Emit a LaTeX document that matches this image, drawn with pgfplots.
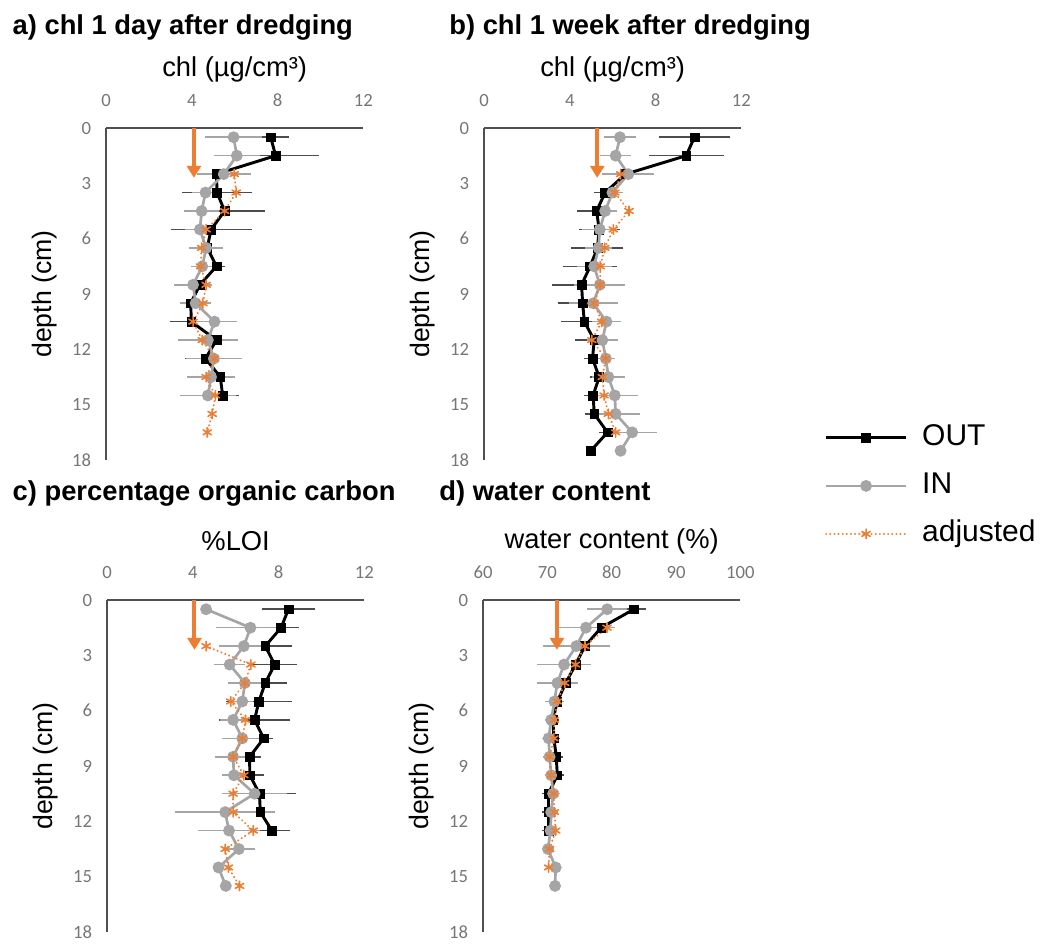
\documentclass[border=0pt]{standalone}
\usepackage{fontspec}
\setmainfont{Liberation Sans}
\newfontfamily\tickfont{Carlito}
\usepackage{pgfplots}
\pgfplotsset{compat=1.18}
\usetikzlibrary{arrows.meta}

\definecolor{orgc}{RGB}{237,125,49}
\definecolor{ingray}{RGB}{165,165,165}
\definecolor{axgray}{RGB}{80,80,80}
\definecolor{tickgray}{RGB}{118,118,118}

\pgfplotsset{
  profile/.style={
    scale only axis, width=193pt, height=249pt,
    ymin=0, ymax=18, y dir=reverse, ytick={0,3,...,18},
    axis x line*=top, axis y line*=left,
    axis line style={draw=axgray, line width=1.2pt, -},
    major tick length=0pt, clip=false,
    tick label style={font=\tickfont\fontsize{14}{16}\selectfont, text=tickgray},
    /pgf/number format/assume math mode=true,
    xticklabel style={anchor=center, yshift=21pt},
    yticklabel style={anchor=east, inner sep=0pt, xshift=-11pt},
    xlabel style={at={(axis description cs:0.5,1)}, anchor=center, yshift=44pt, font=\fontsize{20.5}{24}\selectfont},
    ylabel style={at={(axis description cs:0,0.5)}, anchor=center, yshift=46pt, font=\fontsize{20}{24}\selectfont},
    ylabel={depth (cm)},
  },
  outs/.style={draw=black, line width=2.2pt, mark=square*, mark size=3.3pt,
    mark options={fill=black, draw=black, line width=0.4pt, solid},
    /pgfplots/error bars/x dir=both, /pgfplots/error bars/x explicit,
    /pgfplots/error bars/error bar style={line width=1.2pt, draw=black!70},
    /pgfplots/error bars/error mark options={mark size=3.4pt, line width=1.2pt, draw=black!70}},
  ins/.style={draw=ingray, line width=2pt, mark=*, mark size=3.4pt,
    mark options={fill=ingray, draw=ingray, solid},
    /pgfplots/error bars/x dir=both, /pgfplots/error bars/x explicit,
    /pgfplots/error bars/error bar style={line width=1.2pt, draw=ingray},
    /pgfplots/error bars/error mark options={mark size=3.4pt, line width=1.2pt, draw=ingray}},
  adj/.style={draw=orgc, line width=1.6pt, dash pattern=on 0.1pt off 3pt, line cap=round,
    mark=asterisk, mark size=3.6pt, mark options={draw=orgc, line width=1.2pt, solid}},
  arr/.style={draw=orgc, line width=3pt, -{Triangle[width=10.5pt,length=9pt]}, forget plot},
}

\begin{document}
\begin{tikzpicture}
\useasboundingbox (0,0) rectangle (792.75pt,-707.25pt);

% a) chl 1 day
\begin{axis}[profile, at={(79.5pt,-96pt)}, anchor=north west,
  xmin=0, xmax=12, xtick={0,4,8,12}, xlabel={chl (µg/cm³)}]
\addplot[outs] table[x=v, y=d, x error=e] {
d v e
0.5 7.68 0.65
1.5 7.91 1.8
2.5 5.15 0.5
3.5 5.18 1.43
4.5 5.53 1.67
5.5 4.90 1.68
6.5 4.72 0.3
7.5 5.15 0.2
8.5 4.38 0.35
9.5 3.95 0.3
10.5 3.98 0.8
11.5 5.15 0.7
12.5 4.64 0.74
13.5 5.33 0.4
14.5 5.44 0.55
};
\addplot[ins] table[x=v, y=d, x error=e] {
d v e
0.5 5.95 1.1
1.5 6.10 0.87
2.5 5.49 1.05
3.5 4.64 0.4
4.5 4.46 0.6
5.5 4.38 0.5
6.5 4.67 0.58
7.5 4.49 0.3
8.5 4.06 0.67
9.5 4.18 0.5
10.5 5.06 0.85
11.5 4.75 1.2
12.5 5.03 1.1
13.5 4.90 0.9
14.5 4.75 1.1
};
\addplot[adj] table[x=v, y=d] {
d v
2.5 5.98
3.5 6.07
4.5 5.53
5.5 4.67
6.5 4.46
7.5 4.41
8.5 4.67
9.5 4.52
10.5 4.06
11.5 4.49
12.5 5.06
13.5 4.67
14.5 5.10
15.5 4.95
16.5 4.72
};
\addplot[arr] coordinates {(4.1,0) (4.1,2.7)};
\end{axis}

% b) chl 1 week
\begin{axis}[profile, at={(363pt,-96pt)}, anchor=north west,
  xmin=0, xmax=12, xtick={0,4,8,12}, xlabel={chl (µg/cm³)},
  legend style={at={(axis description cs:1.307,-0.078)}, anchor=west,
    draw=none, fill=none, font=\fontsize{22.5}{26}\selectfont,
    nodes={inner sep=0pt, text height=16pt, text depth=4pt},
    row sep=16pt, /tikz/every odd column/.append style={column sep=11pt}},
  legend cell align=left,
  legend image code/.code={\draw[mark repeat=2,mark phase=2,#1] plot coordinates {(0pt,0pt) (30pt,0pt) (60pt,0pt)};}]
\addplot[outs] table[x=v, y=d, x error=e] {
d v e
0.5 9.81 1.43
1.5 9.43 1.53
2.5 6.60 0.4
3.5 5.65 0.3
4.5 5.25 0.68
5.5 5.37 0.74
6.5 5.29 1.0
7.5 4.95 1.04
8.5 4.55 1.15
9.5 4.60 0.96
10.5 4.68 0.89
11.5 5.14 0.7
12.5 5.06 0.2
13.5 5.37 0.2
14.5 5.09 0.2
15.5 5.14 0.2
16.5 5.76 0.2
17.5 4.98 0
};
\addplot[ins] table[x=v, y=d, x error=e] {
d v e
0.5 6.34 0.52
1.5 6.14 0.5
2.5 6.73 1.0
3.5 5.99 0.3
4.5 5.65 0.35
5.5 5.40 0.6
6.5 5.34 0.4
7.5 5.14 0.6
8.5 5.40 0.97
9.5 5.09 0.93
10.5 5.71 0.46
11.5 5.52 0.5
12.5 5.68 0.2
13.5 5.80 0.57
14.5 6.10 0.89
15.5 6.14 0.9
16.5 6.91 0.93
17.5 6.37 0
};
\addplot[adj] table[x=v, y=d] {
d v
2.5 6.37
3.5 6.10
4.5 6.76
5.5 6.03
6.5 5.63
7.5 5.42
8.5 5.42
9.5 5.14
10.5 5.49
11.5 5.03
12.5 5.68
13.5 5.52
14.5 5.60
15.5 5.80
16.5 6.14
};
\addplot[arr] coordinates {(5.28,0) (5.28,2.7)};
\legend{OUT, IN, adjusted}
\end{axis}

% c) organic carbon
\begin{axis}[profile, at={(80.25pt,-450pt)}, anchor=north west,
  xmin=0, xmax=12, xtick={0,4,8,12}, xlabel={\%LOI}]
\addplot[outs] table[x=v, y=d, x error=e] {
d v e
0.5 8.46 1.02
1.5 8.12 0.6
2.5 7.38 1.04
3.5 7.82 0.83
4.5 7.38 0.82
5.5 7.08 1.34
6.5 6.88 1.46
7.5 7.31 0.23
8.5 6.65 0.3
9.5 6.66 0.44
10.5 7.11 1.5
11.5 7.15 0.3
12.5 7.69 0.62
};
\addplot[ins] table[x=v, y=d, x error=e] {
d v e
0.5 4.62 0
1.5 6.69 1.38
2.5 6.38 0.96
3.5 5.72 0.52
4.5 6.43 0.58
5.5 6.31 0.3
6.5 5.88 0.4
7.5 6.31 0.73
8.5 5.88 0.65
9.5 5.92 0.34
10.5 6.88 1.3
11.5 5.51 2.13
12.5 5.69 1.23
13.5 6.15 0.55
14.5 5.20 0
15.5 5.54 0
};
\addplot[adj] table[x=v, y=d] {
d v
2.5 4.62
3.5 6.71
4.5 6.43
5.5 5.77
6.5 6.46
7.5 6.31
8.5 5.88
9.5 6.38
10.5 5.88
11.5 5.88
12.5 6.82
13.5 5.51
14.5 5.66
15.5 6.18
};
\addplot[arr] coordinates {(4.08,0) (4.08,2.7)};
\end{axis}

% d) water content
\begin{axis}[profile, at={(362.25pt,-450pt)}, anchor=north west,
  xmin=60, xmax=100, xtick={60,70,80,90,100}, xlabel={water content (\%)}]
\addplot[outs] table[x=v, y=d, x error=e] {
d v e
0.5 83.46 1.2
1.5 78.37 0.7
2.5 75.85 0.4
3.5 74.38 0.4
4.5 72.86 0.3
5.5 71.55 0.3
6.5 70.87 0.3
7.5 71.02 0.3
8.5 71.39 0.3
9.5 71.55 0.3
10.5 70.18 0.3
11.5 70.18 0.3
12.5 70.18 0.3
};
\addplot[ins] table[x=v, y=d, x error=e] {
d v e
0.5 79.3 2.45
1.5 76.0 3.8
2.5 74.5 4.5
3.5 72.6 3.55
4.5 71.55 2.5
5.5 71.1 0.8
6.5 70.6 0.3
7.5 70.2 0.3
8.5 70.35 0.3
9.5 70.6 0.3
10.5 70.9 0.3
11.5 70.6 0.3
12.5 70.5 0.3
13.5 70.1 0.3
14.5 71.3 0.3
15.5 71.2 0
};
\addplot[adj] table[x=v, y=d] {
d v
1.5 79.27
2.5 75.85
3.5 74.38
4.5 72.7
5.5 71.55
6.5 71.1
7.5 71.02
8.5 70.35
9.5 70.6
10.5 71.02
11.5 71.1
12.5 71.3
13.5 70.35
14.5 70.2
};
\addplot[arr] coordinates {(71.5,0) (71.5,2.7)};
\end{axis}

\node[anchor=base west, font=\bfseries\fontsize{20.5}{24}\selectfont] at (6pt,-25.5pt) {a) chl 1 day after dredging};
\node[anchor=base west, font=\bfseries\fontsize{20.5}{24}\selectfont] at (333.5pt,-25.5pt) {b) chl 1 week after dredging};
\node[anchor=base west, font=\bfseries\fontsize{20.5}{24}\selectfont] at (6pt,-375pt) {c) percentage organic carbon};
\node[anchor=base west, font=\bfseries\fontsize{20.5}{24}\selectfont] at (326pt,-375pt) {d) water content};
\end{tikzpicture}
\end{document}
